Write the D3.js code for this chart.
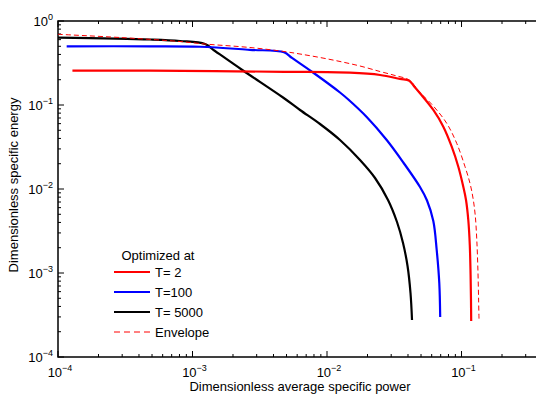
<!DOCTYPE html>
<html>
<head>
<meta charset="utf-8">
<script src="https://cdn.jsdelivr.net/npm/d3@7"></script>
<style>
  body { margin: 0; background: #fff; }
  text { font-family: "Liberation Sans", Arial, sans-serif; fill: #000; }
</style>
</head>
<body>
<svg width="536" height="396"></svg>
<script>
// series values (power, energy)
var t2Power = [1.28e-4, 4.83e-4, 4.8e-3, 0.0148, 0.0248, 0.0349, 0.04091, 0.04434, 0.04913, 0.0617, 0.07322, 0.08455, 0.09467, 0.1031, 0.1080, 0.1123, 0.1152, 0.1168, 0.1176, 0.1180];
var t2Energy = [0.257, 0.256, 0.2485, 0.2423, 0.2276, 0.2045, 0.1947, 0.1674, 0.1378, 0.0872, 0.0552, 0.03189, 0.01843, 0.01065, 0.0074, 0.004276, 0.002154, 9.47e-4, 4.77e-4, 2.68e-4];

var t100Power = [1.16e-4, 4.83e-4, 1.137e-3, 2.67e-3, 4.79e-3, 5.49e-3, 7.87e-3, 0.01249, 0.0144, 0.01973, 0.02779, 0.03693, 0.04913, 0.05539, 0.0617, 0.06539, 0.06836, 0.06942];
var t100Energy = [0.50, 0.50, 0.494, 0.454, 0.424, 0.3637, 0.2437, 0.1409, 0.1162, 0.0720, 0.0383, 0.02067, 0.01056, 0.0073, 0.00416, 0.001878, 7.54e-4, 2.99e-4];

var t5000Power = [1e-4, 4.83e-4, 8.08e-4, 1.24e-3, 1.47e-3, 2.374e-3, 4.71e-3, 6.3e-3, 8.87e-3, 0.01249, 0.01759, 0.02275, 0.02841, 0.03314, 0.03674, 0.03969, 0.04176, 0.04285];
var t5000Energy = [0.633, 0.602, 0.578, 0.532, 0.4394, 0.2575, 0.1228, 0.0872, 0.0594, 0.0383, 0.02214, 0.01352, 0.0074, 0.004046, 0.002276, 0.001212, 5.78e-4, 2.757e-4];

var envPower = [1e-4, 2.89e-4, 8.08e-4, 1.24e-3, 2.675e-3, 4.79e-3, 6.3e-3, 8.87e-3, 0.01249, 0.01759, 0.02477, 0.03202, 0.04075, 0.04913, 0.0617, 0.07763, 0.09211, 0.1062, 0.1156, 0.1217, 0.1264, 0.1299, 0.1324, 0.1340, 0.1349];
var envEnergy = [0.6944, 0.636, 0.570, 0.532, 0.4835, 0.4334, 0.4046, 0.3676, 0.3296, 0.2912, 0.2505, 0.2245, 0.1984, 0.1409, 0.0973, 0.0605, 0.035, 0.01843, 0.01169, 0.00781, 0.0049, 0.00247, 0.001086, 4.77e-4, 2.835e-4];

var legendTitle = "Optimized at";
var legendLabels = ["T= 2", "T=100", "T= 5000", "Envelope"];

var xMajor = [1e-4, 1e-3, 1e-2, 1e-1];
var yMajor = [1e-4, 1e-3, 1e-2, 1e-1, 1];
var xExp = ["\u22124", "\u22123", "\u22122", "\u22121"];
var yExp = ["\u22124", "\u22123", "\u22122", "\u22121", "0"];

var margin = {left: 58, top: 21};
var plotW = 484.5, plotH = 336;

var x = d3.scaleLog().domain([1e-4, 0.4]).range([margin.left, margin.left + plotW]);
var y = d3.scaleLog().domain([1e-4, 1]).range([margin.top + plotH, margin.top]);

var svg = d3.select("svg");

// minor ticks (2..9 of each decade)
var xMinor = x.ticks().filter(d => Math.abs(Math.log10(d) - Math.round(Math.log10(d))) > 1e-9);
var yMinor = y.ticks().filter(d => Math.abs(Math.log10(d) - Math.round(Math.log10(d))) > 1e-9);

var ticks = svg.append("g").attr("stroke", "#000").attr("stroke-width", 1);
var yTop = y.range()[1], yBot = y.range()[0];
var xL = x.range()[0], xR = x.range()[1];

xMinor.forEach(function(d) {
  ticks.append("line").attr("x1", x(d)).attr("x2", x(d)).attr("y1", yBot).attr("y2", yBot - 3);
  ticks.append("line").attr("x1", x(d)).attr("x2", x(d)).attr("y1", yTop).attr("y2", yTop + 3);
});
xMajor.forEach(function(d) {
  ticks.append("line").attr("x1", x(d)).attr("x2", x(d)).attr("y1", yBot).attr("y2", yBot - 6);
  ticks.append("line").attr("x1", x(d)).attr("x2", x(d)).attr("y1", yTop).attr("y2", yTop + 6);
});
yMinor.forEach(function(d) {
  ticks.append("line").attr("x1", xL).attr("x2", xL + 3).attr("y1", y(d)).attr("y2", y(d));
});
yMajor.forEach(function(d) {
  ticks.append("line").attr("x1", xL).attr("x2", xL + 6).attr("y1", y(d)).attr("y2", y(d));
});

// frame
svg.append("rect")
  .attr("x", xL).attr("y", yTop)
  .attr("width", xR - xL).attr("height", yBot - yTop)
  .attr("fill", "none").attr("stroke", "#000").attr("stroke-width", 1.5);

// tick labels
function powLabel(g, base, exp) {
  g.append("tspan").attr("font-size", 13).text(base);
  g.append("tspan").attr("font-size", 9).attr("dy", -6).text(exp);
}
xMajor.forEach(function(d, i) {
  var t = svg.append("text").attr("x", x(d) + 2).attr("y", 377).attr("text-anchor", "middle");
  powLabel(t, "10", xExp[i]);
});
yMajor.forEach(function(d, i) {
  var t = svg.append("text").attr("x", 53).attr("y", y(d) + 5).attr("text-anchor", "end");
  powLabel(t, "10", yExp[i]);
});

// axis titles
svg.append("text")
  .attr("x", 300).attr("y", 391)
  .attr("text-anchor", "middle").attr("font-size", 13)
  .text("Dimensionless average specific power");
svg.append("text")
  .attr("transform", "translate(18," + (margin.top + plotH / 2 - 4) + ") rotate(-90)")
  .attr("text-anchor", "middle").attr("font-size", 13)
  .text("Dimensionless specific energy");

// curves
var line = d3.line()
  .x(d => x(d[0]))
  .y(d => y(d[1]))
  .curve(d3.curveCatmullRom.alpha(0.5));

var series = [
  {p: t2Power, e: t2Energy, color: "#ff0000", dash: null, w: 2.2},
  {p: t100Power, e: t100Energy, color: "#0000ff", dash: null, w: 2.2},
  {p: t5000Power, e: t5000Energy, color: "#000000", dash: null, w: 2.2},
  {p: envPower, e: envEnergy, color: "#ff0000", dash: "5,3", w: 1}
];

svg.append("clipPath").attr("id", "clip")
  .append("rect").attr("x", xL).attr("y", yTop).attr("width", xR - xL).attr("height", yBot - yTop);

var plot = svg.append("g").attr("clip-path", "url(#clip)");
// envelope drawn last so it sits on top
[2, 1, 0, 3].forEach(function(i) {
  var s = series[i];
  plot.append("path")
    .attr("d", line(d3.zip(s.p, s.e)))
    .attr("fill", "none")
    .attr("stroke", s.color)
    .attr("stroke-width", s.w)
    .attr("stroke-linejoin", "round")
    .attr("stroke-dasharray", s.dash);
});

// legend
var leg = svg.append("g");
leg.append("text").attr("x", 158).attr("y", 260).attr("text-anchor", "middle")
  .attr("font-size", 13).text(legendTitle);
series.forEach(function(s, i) {
  var ly = 272 + i * 20;
  leg.append("line")
    .attr("x1", 114).attr("x2", 150).attr("y1", ly).attr("y2", ly)
    .attr("stroke", s.color).attr("stroke-width", s.dash ? 1 : 1.8)
    .attr("stroke-dasharray", s.dash ? "6,4" : null);
  leg.append("text").attr("x", 155).attr("y", ly + 4.5)
    .attr("font-size", 13).text(legendLabels[i]);
});
</script>
</body>
</html>
